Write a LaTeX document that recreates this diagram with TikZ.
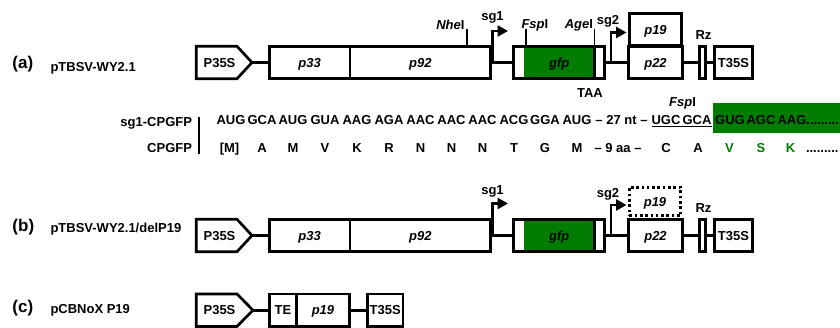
\documentclass[tikz,border=0pt]{standalone}
\usepackage{fontspec}
\setmainfont{Liberation Sans}
\usetikzlibrary{arrows.meta}
\definecolor{gfpgreen}{RGB}{0,125,0}
\begin{document}
\begin{tikzpicture}[x=1pt,y=-1pt,
  lw/.style={line width=2.7pt},
  lbl/.style={font=\fontsize{13}{15.6}\selectfont\bfseries, inner sep=0pt, outer sep=0pt},
  big/.style={font=\fontsize{17}{20}\selectfont\bfseries, inner sep=0pt, outer sep=0pt},
  box/.style={draw, line width=2.7pt, rectangle, inner sep=0pt, outer sep=0pt,
    minimum height=32.4pt, text height=9.3pt, text depth=0pt,
    font=\fontsize{13}{15.6}\selectfont\bfseries},
  dotbox/.style={box, dash pattern=on 2.6pt off 2.7pt},
  gbox/.style={fill=gfpgreen, rectangle, inner sep=0pt, outer sep=0pt,
    minimum height=32.4pt, text height=9.3pt, text depth=0pt,
    font=\fontsize{13}{15.6}\selectfont\bfseries\itshape},
  sgarrow/.style={line width=2.7pt, -{Triangle[length=10.5pt 0 0,width=11pt 0 0]}},
  site/.style={line width=1.3pt}
]
\useasboundingbox (0,0) rectangle (840,327);

% ---------------- row (a) ----------------
\node[big, anchor=base west] (la) at (12.5,68.5) {(a)};
\node[lbl, anchor=base west] (na) at (50.5,71) {pTBSV-WY2.1};

\coordinate (tipA) at (252,62.5);
\draw[lw] (196.3,46.3) -- (237,46.3) -- (tipA) -- (237,78.7) -- (196.3,78.7) -- cycle;
\node[box, draw=none] (p35A) at (219.5,62.5) {P35S};
\node[box, minimum width=80.7pt] (p33A) at (309.65,62.5) {\itshape p33};
\node[box, minimum width=140.7pt] (p92A) at (420.35,62.5) {\itshape p92};
\node[gbox, minimum width=70.5pt] (gfpA) at (559.25,62.5) {gfp};
\node[box, minimum width=91.4pt] (gboxA) at (559,62.5) {};
\draw[lw] (gfpA.north east) -- (gfpA.south east);
\node[box, minimum width=54.4pt] (p22A) at (655.5,62.5) {\itshape p22};
\node[box, minimum width=51.4pt, minimum height=32.2pt] (p19A) at (655.5,29.4) {\itshape p19};
\node[box, minimum width=6.4pt] (RzA) at (702.5,62.5) {};
\node[box, minimum width=38.4pt] (T35SA) at (733.5,62.5) {T35S};

\draw[lw] (tipA) -- (p33A.west);
\draw[lw] (p92A.east) -- (gboxA.west);
\draw[lw] (gboxA.east) -- (p22A.west);
\draw[lw] (p22A.east) -- (RzA.west);
\draw[lw] (RzA.east) -- (T35SA.west);

\coordinate (sg1bA) at (492.5,62.5);
\coordinate (sg1kA) at (492.5,31);
\coordinate (sg1tA) at (508,31);
\draw[sgarrow] (sg1bA) -- (sg1kA) -- (sg1tA);
\coordinate (sg2bA) at (611,62.5);
\coordinate (sg2kA) at (611,32.5);
\coordinate (sg2tA) at (626.5,32.5);
\draw[sgarrow] (sg2bA) -- (sg2kA) -- (sg2tA);

\node[lbl, anchor=base] (sg1lA) at (492.5,20.5) {sg1};
\node[lbl, anchor=base] (sg2lA) at (608,24) {sg2};
\node[lbl, anchor=base] (rzlA) at (703.5,39.5) {Rz};
\node[lbl, anchor=base] (taa) at (590,97) {TAA};

\coordinate (nhe1) at (467,29.3);  \coordinate (nhe2) at (467,46.3);
\coordinate (fsp1) at (526,28.5);  \coordinate (fsp2) at (526,46.3);
\coordinate (age1) at (594.5,28.5); \coordinate (age2) at (594.5,46.3);
\draw[site] (nhe1) -- (nhe2);
\draw[site] (fsp1) -- (fsp2);
\draw[site] (age1) -- (age2);
\node[lbl, anchor=base east] (nhel) at (464.5,29) {\itshape Nhe\upshape I};
\node[lbl, anchor=base west] (fspl) at (521.5,28.5) {\itshape Fsp\upshape I};
\node[lbl, anchor=base east] (agel) at (593,28.5) {\itshape Age\upshape I};

% ---------------- sequence ----------------
\node[lbl, anchor=base east] (sgcp) at (192,126) {sg1-CPGFP};
\node[lbl, anchor=base east] (cpg) at (192,152) {CPGFP};
\coordinate (bar1) at (199,116.5);
\coordinate (bar2) at (199,153.5);
\draw[line width=2.5pt] (bar1) -- (bar2);

\node[fill=gfpgreen, rectangle, inner sep=0pt, minimum width=132pt, minimum height=30pt,
  anchor=north west] (seqgreen) at (713,103) {};

\foreach \c/\x [count=\i] in {AUG/231, GCA/262, AUG/293, GUA/325, AAG/357, AGA/389,
    AAC/420.5, AAC/451.5, AAC/482.5, ACG/514, GGA/545, AUG/577, UGC/666, GCA/697,
    GUG/730, AGC/761}
  \node[lbl, anchor=base] (cod\i) at (\x,124) {\c};
\node[lbl, anchor=base west] (cod17) at (777.5,124) {AAG.........};
\node[lbl, anchor=base] (nt27) at (621.5,124) {\textendash{} 27 nt \textendash};
\coordinate (ul1) at (651.5,126.8);
\coordinate (ul2) at (712,126.8);
\draw[line width=1.3pt] (ul1) -- (ul2);
\node[lbl, anchor=base] (fspseq) at (682.5,106.5) {\itshape Fsp\upshape I};

\foreach \a/\x [count=\i] in {[M]/229.5, A/262, M/293, V/325, K/357, R/389,
    N/420.5, N/451.5, N/482.5, T/514, G/545, M/577, C/666, A/698}
  \node[lbl, anchor=base] (aa\i) at (\x,152.5) {\a};
\node[lbl, anchor=base] (aa9) at (618,152.5) {\textendash{} 9 aa \textendash};
\node[lbl, anchor=base, text=gfpgreen] (aaV) at (729.5,152.5) {V};
\node[lbl, anchor=base, text=gfpgreen] (aaS) at (761,152.5) {S};
\node[lbl, anchor=base, text=gfpgreen] (aaK) at (790.5,152.5) {K};
\node[lbl, anchor=base west] (aadots) at (806,152.5) {.........};

% ---------------- row (b) ----------------
\begin{scope}[shift={(0,173)}]
\node[big, anchor=base west] (lb) at (12.5,58) {(b)};
\node[lbl, anchor=base west] (nb) at (50.5,59) {pTBSV-WY2.1/delP19};

\coordinate (tipB) at (252,62.5);
\draw[lw] (196.3,46.3) -- (237,46.3) -- (tipB) -- (237,78.7) -- (196.3,78.7) -- cycle;
\node[box, draw=none] (p35B) at (219.5,62.5) {P35S};
\node[box, minimum width=80.7pt] (p33B) at (309.65,62.5) {\itshape p33};
\node[box, minimum width=140.7pt] (p92B) at (420.35,62.5) {\itshape p92};
\node[gbox, minimum width=70.5pt] (gfpB) at (559.25,62.5) {gfp};
\node[box, minimum width=91.4pt] (gboxB) at (559,62.5) {};
\draw[lw] (gfpB.north east) -- (gfpB.south east);
\node[box, minimum width=54.4pt] (p22B) at (655.5,62.5) {\itshape p22};
\node[dotbox, minimum width=51.4pt, minimum height=28.6pt] (p19B) at (655,28.5) {\itshape p19};
\node[box, minimum width=6.4pt] (RzB) at (702.5,62.5) {};
\node[box, minimum width=38.4pt] (T35SB) at (733.5,62.5) {T35S};

\draw[lw] (tipB) -- (p33B.west);
\draw[lw] (p92B.east) -- (gboxB.west);
\draw[lw] (gboxB.east) -- (p22B.west);
\draw[lw] (p22B.east) -- (RzB.west);
\draw[lw] (RzB.east) -- (T35SB.west);

\coordinate (sg1bB) at (492.5,62.5);
\coordinate (sg1kB) at (492.5,30.5);
\coordinate (sg1tB) at (508,30.5);
\draw[sgarrow] (sg1bB) -- (sg1kB) -- (sg1tB);
\coordinate (sg2bB) at (611,62.5);
\coordinate (sg2kB) at (611,32);
\coordinate (sg2tB) at (626.5,32);
\draw[sgarrow] (sg2bB) -- (sg2kB) -- (sg2tB);

\node[lbl, anchor=base] (sg1lB) at (492.5,21.5) {sg1};
\node[lbl, anchor=base] (sg2lB) at (608,24) {sg2};
\node[lbl, anchor=base] (rzlB) at (703.5,39.5) {Rz};
\end{scope}

% ---------------- row (c) ----------------
\begin{scope}[shift={(0,247.7)}]
\node[big, anchor=base west] (lc) at (12.5,65) {(c)};
\node[lbl, anchor=base west] (nc) at (50.5,66) {pCBNoX P19};

\coordinate (tipC) at (253,62.5);
\draw[lw] (196.3,46.3) -- (237,46.3) -- (tipC) -- (237,78.7) -- (196.3,78.7) -- cycle;
\node[box, draw=none] (p35C) at (219.5,62.5) {P35S};
\node[box, minimum width=27pt] (teC) at (283,62.5) {TE};
\node[box, minimum width=53pt] (p19C) at (323,62.5) {\itshape p19};
\node[box, minimum width=35.7pt] (T35SC) at (385.15,62.5) {T35S};
\draw[lw] (tipC) -- (teC.west);
\draw[lw] (p19C.east) -- (T35SC.west);
\end{scope}
\end{tikzpicture}
\end{document}
